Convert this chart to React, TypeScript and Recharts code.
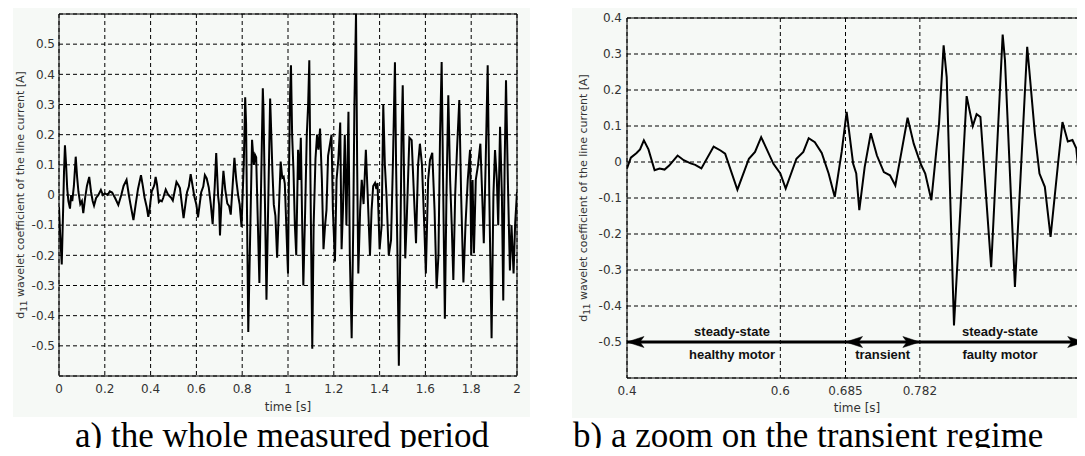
import React from "react";
import {
  LineChart,
  Line,
  XAxis,
  YAxis,
  CartesianGrid,
  ReferenceArea,
  ReferenceLine,
  ReferenceDot,
  Label,
} from "recharts";

// ---------- data (time [s], d11 coefficient [A]) ----------
const startupSegment: [number, number][] = [
  [0.0, -0.04], [0.005, -0.13], [0.012, -0.23], [0.018, -0.05], [0.022, 0.08],
  [0.026, 0.165], [0.031, 0.1], [0.036, 0.02], [0.041, -0.02], [0.048, -0.045],
  [0.053, 0.0], [0.058, -0.02], [0.065, 0.03], [0.073, 0.127], [0.079, 0.06],
  [0.085, 0.01], [0.093, -0.03], [0.1, -0.02], [0.106, -0.06], [0.114, -0.01],
  [0.122, 0.03], [0.132, 0.06], [0.14, 0.01], [0.147, -0.02], [0.153, -0.035],
  [0.162, -0.01], [0.172, 0.0], [0.183, 0.017], [0.192, 0.0], [0.2, 0.005],
  [0.212, 0.0], [0.222, 0.012], [0.232, 0.008], [0.245, -0.01], [0.259, -0.033],
  [0.272, 0.0], [0.282, 0.03], [0.295, 0.05], [0.305, 0.0], [0.312, -0.03],
  [0.325, -0.083], [0.335, -0.03], [0.345, 0.02], [0.358, 0.066], [0.366, 0.03],
  [0.374, -0.01], [0.383, -0.04], [0.39, -0.072], [0.396, -0.045],
];

const zoomSegment: [number, number][] = [
  [0.4, -0.018], [0.405, 0.012], [0.4125, 0.025], [0.417, 0.035], [0.422, 0.06],
  [0.428, 0.035], [0.436, -0.023], [0.4425, -0.018], [0.449, -0.021], [0.455, -0.01],
  [0.466, 0.018], [0.474, 0.005], [0.483, -0.004], [0.489, -0.008], [0.497, -0.018],
  [0.513, 0.043], [0.522, 0.032], [0.528, 0.023], [0.544, -0.077], [0.559, 0.009],
  [0.567, 0.028], [0.575, 0.069], [0.591, -0.005], [0.6, -0.032], [0.607, -0.074],
  [0.621, 0.009], [0.63, 0.028], [0.637, 0.066], [0.645, 0.055], [0.654, 0.025],
  [0.663, -0.032], [0.671, -0.097], [0.68, 0.028], [0.6865, 0.139], [0.695, -0.005],
  [0.699, -0.032], [0.703, -0.134], [0.71, -0.014], [0.718, 0.08], [0.726, 0.018],
  [0.735, -0.028], [0.743, -0.037], [0.75, -0.065], [0.758, 0.028], [0.766, 0.123],
  [0.774, 0.051], [0.783, -0.005], [0.789, -0.032], [0.797, -0.106], [0.807, 0.106],
  [0.813, 0.324], [0.817, 0.236], [0.8265, -0.454], [0.843, 0.183], [0.851, 0.1],
  [0.856, 0.133], [0.861, 0.125], [0.875, -0.292], [0.89, 0.354], [0.893, 0.283],
  [0.906, -0.347], [0.922, 0.32], [0.925, 0.249], [0.932, 0.079], [0.938, -0.032],
  [0.945, -0.069], [0.9525, -0.208], [0.962, -0.009], [0.968, 0.111], [0.975, 0.057],
  [0.981, 0.061], [0.986, 0.038], [0.997, -0.2], [1.0, -0.26],
];

const faultySegment: [number, number][] = [
  [1.004, 0.05], [1.009, 0.33], [1.013, 0.43], [1.018, 0.2], [1.024, 0.08],
  [1.03, -0.1], [1.036, -0.2], [1.044, 0.15], [1.05, 0.05], [1.056, 0.19],
  [1.062, -0.1], [1.067, -0.3], [1.075, -0.05], [1.082, 0.2], [1.088, 0.3],
  [1.093, 0.447], [1.098, 0.05], [1.106, -0.51], [1.112, -0.1], [1.12, 0.12],
  [1.127, 0.2], [1.133, 0.15], [1.14, 0.22], [1.148, 0.05], [1.155, -0.18],
  [1.162, -0.1], [1.168, -0.05], [1.175, 0.13], [1.19, 0.2], [1.196, -0.05],
  [1.205, -0.22], [1.212, 0.05], [1.22, 0.12], [1.228, 0.24], [1.234, -0.18],
  [1.24, -0.05], [1.248, 0.2], [1.255, -0.1], [1.264, 0.276], [1.27, -0.2],
  [1.278, -0.475], [1.285, -0.1], [1.29, 0.3], [1.297, 0.6], [1.302, 0.1],
  [1.307, -0.26], [1.315, -0.05], [1.322, 0.05], [1.33, -0.03], [1.34, 0.15],
  [1.348, 0.0], [1.358, -0.2], [1.365, -0.05], [1.372, 0.03], [1.38, 0.04],
  [1.386, 0.02], [1.391, 0.04], [1.4, -0.18], [1.409, -0.1], [1.416, 0.3],
  [1.423, 0.1], [1.43, 0.0], [1.44, -0.2], [1.45, -0.15], [1.458, 0.1],
  [1.467, 0.44], [1.472, 0.1], [1.478, -0.2], [1.484, -0.566], [1.49, -0.2],
  [1.496, 0.2], [1.501, 0.364], [1.507, 0.05], [1.512, -0.21], [1.518, -0.094],
  [1.53, 0.19], [1.54, 0.182], [1.55, 0.0], [1.559, -0.16], [1.568, 0.1],
  [1.576, 0.17], [1.585, 0.1], [1.595, -0.1], [1.602, -0.26], [1.612, 0.05],
  [1.62, 0.116], [1.63, 0.14], [1.64, -0.05], [1.649, -0.31], [1.657, -0.2],
  [1.664, 0.2], [1.671, 0.441], [1.678, 0.0], [1.685, -0.41], [1.692, 0.0],
  [1.7, 0.331], [1.708, 0.05], [1.715, -0.1], [1.722, -0.282], [1.73, 0.0],
  [1.738, 0.15], [1.748, 0.315], [1.756, 0.0], [1.766, -0.29], [1.775, -0.1],
  [1.785, 0.05], [1.795, 0.15], [1.8, -0.2], [1.806, 0.05], [1.812, -0.193],
  [1.82, 0.05], [1.83, 0.1], [1.84, 0.17], [1.848, 0.0], [1.855, -0.16],
  [1.863, 0.1], [1.872, 0.43], [1.879, 0.0], [1.889, -0.475], [1.897, 0.0],
  [1.904, 0.149], [1.912, 0.05], [1.918, -0.1], [1.926, 0.226], [1.934, 0.0],
  [1.94, -0.35], [1.946, 0.1], [1.952, 0.38], [1.96, 0.05], [1.969, -0.25],
  [1.976, -0.1], [1.985, -0.26], [1.992, -0.094], [2.0, 0.01],
];

const fullTicksX = [0, 0.2, 0.4, 0.6, 0.8, 1, 1.2, 1.4, 1.6, 1.8, 2];
const fullTicksY = [-0.5, -0.4, -0.3, -0.2, -0.1, 0, 0.1, 0.2, 0.3, 0.4, 0.5];
const zoomTicksX = [0.4, 0.6, 0.685, 0.782];
const zoomTicksY = [-0.5, -0.4, -0.3, -0.2, -0.1, 0, 0.1, 0.2, 0.3, 0.4];

const regimeLevel = -0.5;
const regimeSpan = [0.4, 0.997];
const arrowTips = [
  { x: 0.4, dir: -1 },
  { x: 0.685, dir: -1 },
  { x: 0.782, dir: 1 },
  { x: 0.997, dir: 1 },
];
const regimeLabels = [
  { x: 0.537, top: "steady-state", bottom: "healthy motor" },
  { x: 0.7335, top: "", bottom: "transient" },
  { x: 0.8865, top: "steady-state", bottom: "faulty motor" },
];

const yTitle = "wavelet coefficient of the line current [A]";
const xTitle = "time [s]";
const captions = ["a) the whole measured period", "b) a zoom on the transient regime"];

// ---------- helpers ----------
const toRows = (pairs: [number, number][]) => pairs.map(([t, v]) => ({ t, v }));
const fullSignal = toRows([...startupSegment, ...zoomSegment, ...faultySegment]);
const zoomSignal = fullSignal.filter((p) => p.t >= 0.4 && p.t <= 1.0);

const TICK_FONT = "DejaVu Sans, Verdana, sans-serif";
const tickStyle = { fill: "#333", fontSize: 12, fontFamily: TICK_FONT };

const YTitle = ({ viewBox, bx }: any) => {
  const vb = viewBox || { x: 0, y: 0, width: 0, height: 0 };
  const cx = bx;
  const cy = vb.y + vb.height / 2;
  return (
    <text
      x={cx}
      y={cy}
      transform={`rotate(-90 ${cx} ${cy})`}
      textAnchor="middle"
      fill="#333"
      fontSize={11}
      fontFamily={TICK_FONT}
    >
      <tspan>d</tspan>
      <tspan dy={3} fontSize={9}>11</tspan>
      <tspan dy={-3}>{" " + yTitle}</tspan>
    </text>
  );
};

const ArrowHead = ({ cx, cy, dir }: any) => (
  <path
    d={`M${cx},${cy} L${cx - dir * 17},${cy - 5.5} L${cx - dir * 13},${cy} L${cx - dir * 17},${cy + 5.5} Z`}
    fill="#000"
    stroke="#000"
    strokeWidth={0.5}
  />
);

const RegimeText = ({ cx, cy, top, bottom }: any) => (
  <g>
    {top ? (
      <text x={cx} y={cy - 6} textAnchor="middle" fontSize={13} fontWeight="bold" fontFamily="Liberation Sans, Arial, sans-serif" fill="#111">
        {top}
      </text>
    ) : null}
    <text x={cx} y={cy + 17} textAnchor="middle" fontSize={13} fontWeight="bold" fontFamily="Liberation Sans, Arial, sans-serif" fill="#111">
      {bottom}
    </text>
  </g>
);

const PANEL = "#f6f9f6";

export default function App() {
  return (
    <div
      style={{
        position: "relative",
        width: 1085,
        height: 456,
        margin: -8,
        overflow: "hidden",
        background: "#fff",
      }}
    >
      <div style={{ position: "absolute", left: 13, top: 3, width: 517, height: 414, background: PANEL }} />
      <div style={{ position: "absolute", left: 572, top: 3, width: 513, height: 415, background: PANEL }} />

      {/* a) whole period */}
      <div style={{ position: "absolute", left: 0, top: 0 }}>
        <LineChart
          width={530}
          height={420}
          data={fullSignal}
          margin={{ top: 14, right: 13, bottom: 4, left: 0 }}
        >
          <CartesianGrid stroke="#000" strokeDasharray="4 3" strokeWidth={1} />
          <XAxis
            dataKey="t"
            type="number"
            domain={[0, 2]}
            ticks={fullTicksX}
            allowDataOverflow
            axisLine={false}
            tickLine={false}
            tickSize={4}
            tickMargin={4}
            height={40}
            tick={tickStyle}
            tickFormatter={(v: number) => String(v)}
            label={{ value: xTitle, position: "insideBottom", offset: 5, fill: "#333", fontSize: 12, fontFamily: TICK_FONT }}
          />
          <YAxis
            type="number"
            domain={[-0.6, 0.6]}
            ticks={fullTicksY}
            allowDataOverflow
            axisLine={false}
            tickLine={false}
            tickSize={2}
            tickMargin={2}
            width={59}
            tick={tickStyle}
            tickFormatter={(v: number) => String(v)}
            label={<Label content={(p: any) => <YTitle viewBox={p.viewBox} bx={24} />} />}
          />
          <ReferenceArea x1={0} x2={2} y1={-0.6} y2={0.6} fill="none" stroke="#000" strokeWidth={1} ifOverflow="visible" />
          <Line
            dataKey="v"
            type="linear"
            stroke="#000"
            strokeWidth={2}
            dot={false}
            isAnimationActive={false}
          />
        </LineChart>
      </div>

      {/* b) zoom on transient */}
      <div style={{ position: "absolute", left: 540, top: 0 }}>
        <LineChart
          width={560}
          height={420}
          data={zoomSignal}
          margin={{ top: 18, right: 13, bottom: 2, left: 0 }}
        >
          <CartesianGrid stroke="#000" strokeDasharray="4 3" strokeWidth={1} />
          <XAxis
            dataKey="t"
            type="number"
            domain={[0.4, 1.0]}
            ticks={zoomTicksX}
            allowDataOverflow
            axisLine={false}
            tickLine={false}
            tickSize={4}
            tickMargin={4}
            height={40}
            tick={tickStyle}
            tickFormatter={(v: number) => String(v)}
            label={{ value: xTitle, position: "insideBottom", offset: 6, fill: "#333", fontSize: 12, fontFamily: TICK_FONT }}
          />
          <YAxis
            type="number"
            domain={[-0.6, 0.4]}
            ticks={zoomTicksY}
            allowDataOverflow
            axisLine={false}
            tickLine={false}
            tickSize={2}
            tickMargin={3}
            width={87}
            tick={tickStyle}
            tickFormatter={(v: number) => String(v)}
            label={<Label content={(p: any) => <YTitle viewBox={p.viewBox} bx={47} />} />}
          />
          <ReferenceArea x1={0.4} x2={1.0} y1={-0.6} y2={0.4} fill="none" stroke="#000" strokeWidth={1} ifOverflow="visible" />
          <Line
            dataKey="v"
            type="linear"
            stroke="#000"
            strokeWidth={2}
            dot={false}
            isAnimationActive={false}
          />
          <ReferenceLine
            segment={[
              { x: regimeSpan[0], y: regimeLevel },
              { x: regimeSpan[1], y: regimeLevel },
            ]}
            stroke="#000"
            strokeWidth={3}
            ifOverflow="visible"
          />
          {arrowTips.map((a, i) => (
            <ReferenceDot
              key={"arrow" + i}
              x={a.x}
              y={regimeLevel}
              r={0}
              ifOverflow="visible"
              shape={(p: any) => <ArrowHead cx={p.cx} cy={p.cy} dir={a.dir} />}
            />
          ))}
          {regimeLabels.map((l, i) => (
            <ReferenceDot
              key={"lab" + i}
              x={l.x}
              y={regimeLevel}
              r={0}
              ifOverflow="visible"
              shape={(p: any) => <RegimeText cx={p.cx} cy={p.cy} top={l.top} bottom={l.bottom} />}
            />
          ))}
        </LineChart>
      </div>

      <svg
        width={1085}
        height={456}
        style={{ position: "absolute", left: 0, top: 0, pointerEvents: "none" }}
      >
        <text x={75} y={447} fontSize={35} fontFamily="Liberation Serif, Times New Roman, serif" fill="#000">
          {captions[0]}
        </text>
        <text x={573} y={447} fontSize={35} fontFamily="Liberation Serif, Times New Roman, serif" fill="#000">
          {captions[1]}
        </text>
      </svg>
    </div>
  );
}
